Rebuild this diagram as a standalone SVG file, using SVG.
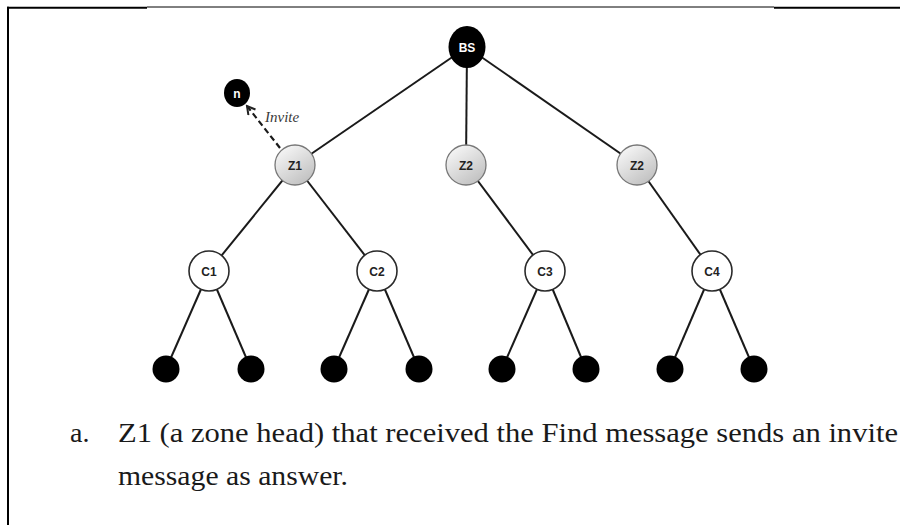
<svg xmlns="http://www.w3.org/2000/svg" width="900" height="525" viewBox="0 0 900 525">
  <defs>
    <linearGradient id="zgrad" x1="0.2" y1="0.1" x2="0.8" y2="0.95">
      <stop offset="0" stop-color="#f4f4f4"/>
      <stop offset="1" stop-color="#c0c0c0"/>
    </linearGradient>
    <marker id="openArrow" markerWidth="12" markerHeight="12" refX="9" refY="5" orient="auto" markerUnits="userSpaceOnUse">
      <path d="M1,0.5 L9,5 L1,9.5" fill="none" stroke="#222" stroke-width="2"/>
    </marker>
  </defs>
  <style>
    .edge { stroke: #1a1a1a; stroke-width: 2; fill: none; }
    .dashed { stroke: #1a1a1a; stroke-width: 2.2; stroke-dasharray: 6 3.5; fill: none; }
    .black { fill: #000; }
    .zone { fill: url(#zgrad); stroke: #777; stroke-width: 1.3; }
    .cluster { fill: #fff; stroke: #2a2a2a; stroke-width: 1.6; }
    .lbl { font-family: "Liberation Sans", Arial, sans-serif; font-weight: bold; font-size: 12px; text-anchor: middle; }
    .wl { fill: #fff; }
    .dl { fill: #222; }
    .cap { font-family: "Liberation Serif", "Times New Roman", serif; font-size: 28px; fill: #1a1a1a; }
    .frame { stroke: #000; fill: none; }
  </style>
  <rect width="900" height="525" fill="#fff"/>

  <!-- frame -->
  <g id="frame">
    <line class="frame" x1="7" y1="7.7" x2="147" y2="7.7" stroke-width="2"/>
    <line class="frame" x1="147" y1="7" x2="774" y2="7" stroke-width="1"/>
    <line class="frame" x1="774" y1="7.7" x2="900" y2="7.7" stroke-width="2"/>
    <line class="frame" x1="8" y1="6.7" x2="8" y2="525" stroke-width="2"/>
  </g>

  <!-- connectors -->
  <g id="connectors">
    <line class="edge" x1="467" y1="47" x2="295" y2="165"/>
    <line class="edge" x1="467" y1="47" x2="466" y2="165"/>
    <line class="edge" x1="467" y1="47" x2="637" y2="165"/>
    <line class="edge" x1="295" y1="165" x2="209" y2="271"/>
    <line class="edge" x1="295" y1="165" x2="377" y2="271"/>
    <line class="edge" x1="466" y1="165" x2="545" y2="271"/>
    <line class="edge" x1="637" y1="165" x2="712" y2="271"/>
    <line class="edge" x1="209" y1="271" x2="166" y2="369"/>
    <line class="edge" x1="209" y1="271" x2="251" y2="369"/>
    <line class="edge" x1="377" y1="271" x2="334" y2="369"/>
    <line class="edge" x1="377" y1="271" x2="419" y2="369"/>
    <line class="edge" x1="545" y1="271" x2="502" y2="369"/>
    <line class="edge" x1="545" y1="271" x2="586" y2="369"/>
    <line class="edge" x1="712" y1="271" x2="670" y2="369"/>
    <line class="edge" x1="712" y1="271" x2="754" y2="369"/>
    <line class="dashed" x1="280" y1="148" x2="247" y2="106" marker-end="url(#openArrow)"/>
    <text x="265" y="122" font-family="Liberation Serif, 'Times New Roman', serif" font-style="italic" font-size="15" fill="#3a3a3a">Invite</text>
  </g>

  <!-- nodes -->
  <g id="node-BS"><ellipse class="black" cx="467" cy="47" rx="18.5" ry="21"/><text class="lbl wl" x="467" y="51.5">BS</text></g>
  <g id="node-n"><ellipse class="black" cx="237" cy="93" rx="13" ry="14"/><text class="lbl wl" x="237" y="97.5">n</text></g>
  <g id="node-Z1"><circle class="zone" cx="295" cy="165" r="20"/><text class="lbl dl" x="295" y="169.5">Z1</text></g>
  <g id="node-Z2a"><circle class="zone" cx="466" cy="165" r="20"/><text class="lbl dl" x="466" y="169.5">Z2</text></g>
  <g id="node-Z2b"><circle class="zone" cx="637" cy="165" r="20"/><text class="lbl dl" x="637" y="169.5">Z2</text></g>
  <g id="node-C1"><circle class="cluster" cx="209" cy="271" r="20"/><text class="lbl dl" x="209" y="275.5">C1</text></g>
  <g id="node-C2"><circle class="cluster" cx="377" cy="271" r="20"/><text class="lbl dl" x="377" y="275.5">C2</text></g>
  <g id="node-C3"><circle class="cluster" cx="545" cy="271" r="20"/><text class="lbl dl" x="545" y="275.5">C3</text></g>
  <g id="node-C4"><circle class="cluster" cx="712" cy="271" r="20"/><text class="lbl dl" x="712" y="275.5">C4</text></g>
  <g id="node-L1"><circle class="black" cx="166" cy="369" r="13.5"/></g>
  <g id="node-L2"><circle class="black" cx="251" cy="369" r="13.5"/></g>
  <g id="node-L3"><circle class="black" cx="334" cy="369" r="13.5"/></g>
  <g id="node-L4"><circle class="black" cx="419" cy="369" r="13.5"/></g>
  <g id="node-L5"><circle class="black" cx="502" cy="369" r="13.5"/></g>
  <g id="node-L6"><circle class="black" cx="586" cy="369" r="13.5"/></g>
  <g id="node-L7"><circle class="black" cx="670" cy="369" r="13.5"/></g>
  <g id="node-L8"><circle class="black" cx="754" cy="369" r="13.5"/></g>

  <!-- caption -->
  <g id="caption">
    <text class="cap" x="70" y="442">a.</text>
    <text class="cap" x="118" y="442" textLength="780" lengthAdjust="spacingAndGlyphs">Z1 (a zone head) that received the Find message sends an invite</text>
    <text class="cap" x="118" y="485" textLength="230" lengthAdjust="spacingAndGlyphs">message as answer.</text>
  </g>
</svg>
